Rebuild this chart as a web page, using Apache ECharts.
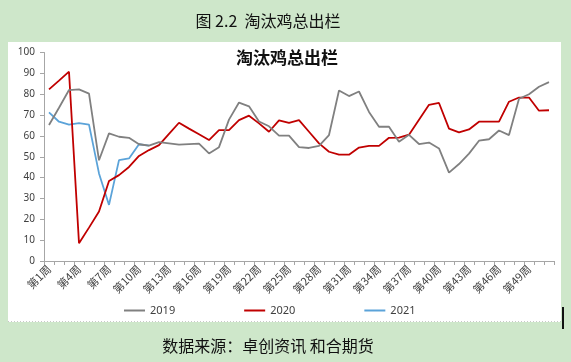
<!DOCTYPE html>
<html>
<head>
<meta charset="utf-8">
<script src="https://cdn.jsdelivr.net/npm/echarts@6/dist/echarts.min.js"></script>
<style>
html,body{margin:0;padding:0;background:#cee7ca;}
#c{width:571px;height:362px;}
</style>
</head>
<body>
<div id="c"></div>
<script>
var categories = ['第1周','第2周','第3周','第4周','第5周','第6周','第7周','第8周','第9周','第10周',
'第11周','第12周','第13周','第14周','第15周','第16周','第17周','第18周','第19周','第20周',
'第21周','第22周','第23周','第24周','第25周','第26周','第27周','第28周','第29周','第30周',
'第31周','第32周','第33周','第34周','第35周','第36周','第37周','第38周','第39周','第40周',
'第41周','第42周','第43周','第44周','第45周','第46周','第47周','第48周','第49周','第50周',
'第51周'];

var s2019 = [65.2,73.5,82,82.3,80.3,48.3,61.2,59.6,59.1,56,
55.3,57,56.4,55.8,56.1,56.3,51.6,54.6,67.8,76,
74.2,66.9,64.6,60.1,60.1,54.6,54.2,55.2,60.4,81.8,
79.1,81.3,71.5,64.4,64.4,57.2,60.5,56.1,56.8,54,
42.4,46.5,51.5,57.7,58.4,62.6,60.4,77.8,80,83.6,
85.8];

var s2020 = [82.3,86.5,90.8,8.5,16,23.7,38.4,41.2,45.1,50.4,
53.2,55.6,61,66.3,63.5,60.8,58,62.8,62.8,67.6,
69.7,66,62,67.4,66.3,67.6,62,56.4,52.4,51,
51,54.4,55.2,55.2,59.1,59.2,60.6,67.8,74.9,75.8,
63.5,61.7,63.1,66.8,66.8,66.8,76.4,78.4,78.4,72.1,
72.3];

var s2021 = [71.3,66.8,65.4,66.1,65.4,42,26.9,48.4,49.2,56,55.3];

var seriesNames = ['2019','2020','2021'];
var seriesColors = ['#808080','#c00000','#5ba3d9'];

var figureTitle = '图 2.2  淘汰鸡总出栏';
var chartTitle = '淘汰鸡总出栏';
var sourceText = '数据来源：卓创资讯 和合期货';

var chart = echarts.init(document.getElementById('c'), null, {renderer:'canvas'});
var dataList = [s2019, s2020, s2021];
var series = seriesNames.map(function(n, i){
  return {
    name: n, type: 'line', data: dataList[i],
    showSymbol: false, symbol: 'none', smooth: false,
    lineStyle: {color: seriesColors[i], width: 1.8},
    itemStyle: {color: seriesColors[i]},
    z: 3 - i
  };
});

chart.setOption({
  backgroundColor: '#cee7ca',
  animation: false,
  graphic: [
    {type:'rect', shape:{x:8, y:42, width:553, height:280}, style:{fill:'#ffffff'}, z:-10},
    {type:'line', shape:{x1:8, y1:321.5, x2:561, y2:321.5}, style:{stroke:'#c8c8c8', lineWidth:1, lineDash:[1,2]}, z:-9},
    {type:'rect', shape:{x:562, y:307, width:2, height:22}, style:{fill:'#111111'}, z:5},
    {type:'text', style:{x:268, y:21, text: figureTitle, textAlign:'center', textVerticalAlign:'middle', font:'16px "Noto Sans CJK SC"', fill:'#111111'}},
    {type:'text', style:{x:287, y:58, text: chartTitle, textAlign:'center', textVerticalAlign:'middle', font:'bold 17px "Noto Sans CJK SC"', fill:'#111111'}},
    {type:'text', style:{x:268, y:346, text: sourceText, textAlign:'center', textVerticalAlign:'middle', font:'16px "Noto Sans CJK SC"', fill:'#111111'}}
  ],
  grid: {left:44, right:17, top:52.5, bottom:101, containLabel:false},
  legend: {
    data: seriesNames,
    left: 119, top: 300,
    itemGap: 69, itemWidth: 21, itemHeight: 2,
    icon: 'rect',
    textStyle: {fontSize: 11, color:'#404040', fontFamily:'"Noto Sans", sans-serif'}
  },
  xAxis: {
    type:'category', data: categories, boundaryGap: true,
    axisLine: {show:true, lineStyle:{color:'#a6a6a6', width:1}},
    axisTick: {show:true, interval:0, length:4, lineStyle:{color:'#a6a6a6'}},
    axisLabel: {interval:2, rotate:45, fontSize:11, color:'#404040', margin:6, fontFamily:'"Noto Sans CJK SC"'},
    splitLine: {show:false}
  },
  yAxis: {
    type:'value', min:0, max:100, interval:10,
    axisLine: {show:true, lineStyle:{color:'#a6a6a6', width:1}},
    axisTick: {show:true, length:4, lineStyle:{color:'#a6a6a6'}},
    axisLabel: {fontSize:10, color:'#404040', margin:9, fontFamily:'"Noto Sans", sans-serif'},
    splitLine: {show:false}
  },
  series: series
});
</script>
</body>
</html>
